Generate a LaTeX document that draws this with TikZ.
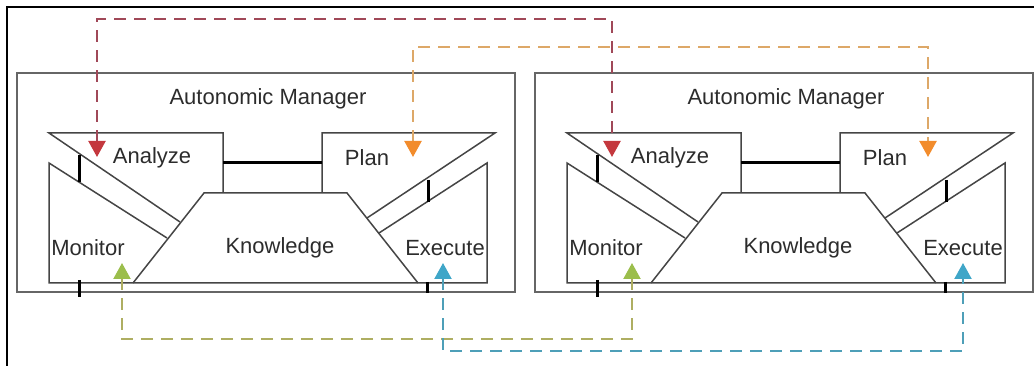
\documentclass[tikz,border=0pt]{standalone}
\usepackage{fontspec}
\setmainfont{Liberation Sans}
\usetikzlibrary{arrows.meta}
\definecolor{boxgray}{HTML}{666666}
\definecolor{linegray}{HTML}{454545}
\definecolor{txt}{HTML}{2C2C2C}
\definecolor{redline}{HTML}{A04858}
\definecolor{redhead}{HTML}{C4383E}
\definecolor{orline}{HTML}{DDA868}
\definecolor{orhead}{HTML}{F28C2C}
\definecolor{grline}{HTML}{AEAE62}
\definecolor{grhead}{HTML}{9BBE4C}
\definecolor{blline}{HTML}{4E9FB8}
\definecolor{blhead}{HTML}{3FA6C8}
\begin{document}
\begin{tikzpicture}[x=1pt,y=-1pt,
  mgr/.style={draw=boxgray,line width=2.2pt},
  part/.style={draw=linegray,line width=1.5pt,line join=miter},
  tickmark/.style={draw=black,line width=3pt},
  lbl/.style={text=txt,font=\fontsize{22}{24}\selectfont,inner sep=0pt},
  flow/.style={dash pattern=on 12pt off 8pt,line width=2.2pt},
  pics/manager/.style={code={
    \draw[mgr] (17,73) rectangle (515,292);
    \node[lbl] (-title) at (268,99) {Autonomic Manager};
    % Analyze
    \draw[part] (180,222) -- (49,133) -- (223,133) -- (223,193);
    % Monitor
    \draw[part] (167,238) -- (49,163) -- (49,283) -- (487,283) -- (487,163) -- (379,233);
    % Plan
    \draw[part] (322,193) -- (322,133) -- (495,133) -- (367,218);
    % Knowledge
    \draw[part] (133,283) -- (204,193) -- (347,193) -- (418,283);
    % links
    \draw[tickmark] (223,163) -- (322,163);
    \draw[tickmark] (79,155) -- (79,182);
    \draw[tickmark] (428,180) -- (428,202);
    \draw[tickmark] (79,280) -- (79,297);
    \draw[tickmark] (427,282) -- (427,293);
    \node[lbl] (-an) at (152,158) {Analyze};
    \node[lbl] (-pl) at (367,158) {Plan};
    \node[lbl] (-mo) at (88,248) {Monitor};
    \node[lbl] (-kn) at (280,248) {Knowledge};
    \node[lbl] (-ex) at (445,248) {Execute};
  }}]
\useasboundingbox (0,0) rectangle (1034,366);
\draw[black,line width=1.5pt] (7,366) -- (7,7) -- (1034,7);
\pic (L) at (0,0) {manager};
\pic (R) at (518,0) {manager};
% connector ends
\coordinate (La) at (97,157);
\coordinate (Ra) at (612,157);
\coordinate (Lp) at (413,157);
\coordinate (Rp) at (928,157);
\coordinate (Lm) at (122,263);
\coordinate (Rm) at (632,263);
\coordinate (Le) at (443,263);
\coordinate (Re) at (963,263);
\coordinate (redtop) at (0,19);
\coordinate (ortop) at (0,47);
\coordinate (grbot) at (0,339);
\coordinate (blbot) at (0,351);
\draw[flow,draw=redline,{Triangle[width=17pt,length=16pt,color=redhead]}-{Triangle[width=17pt,length=16pt,color=redhead]}]
  (La) -- (La |- redtop) -| (Ra);
\draw[flow,draw=orline,{Triangle[width=17pt,length=16pt,color=orhead]}-{Triangle[width=17pt,length=16pt,color=orhead]}]
  (Lp) -- (Lp |- ortop) -| (Rp);
\draw[flow,draw=grline,{Triangle[width=17pt,length=16pt,color=grhead]}-{Triangle[width=17pt,length=16pt,color=grhead]}]
  (Lm) -- (Lm |- grbot) -| (Rm);
\draw[flow,draw=blline,{Triangle[width=17pt,length=16pt,color=blhead]}-{Triangle[width=17pt,length=16pt,color=blhead]}]
  (Le) -- (Le |- blbot) -| (Re);
\end{tikzpicture}
\end{document}
